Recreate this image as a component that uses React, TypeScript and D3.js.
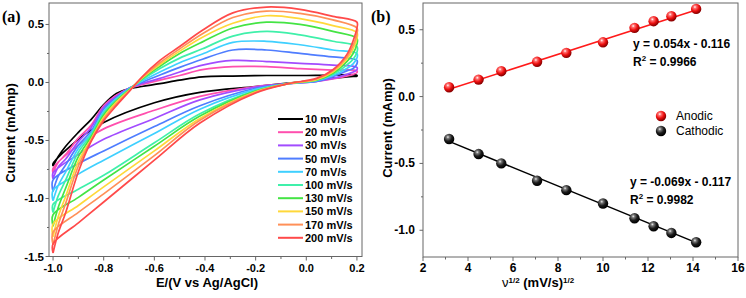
import * as d3 from 'd3';

// ---- panel (a): cyclic voltammograms ----
const scanRates = ['10 mV/s', '20 mV/s', '30 mV/s', '50 mV/s', '70 mV/s', '100 mV/s', '130 mV/s', '150 mV/s', '170 mV/s', '200 mV/s'];
const cvColors = ['#000000', '#ff4fae', '#a24cff', '#4f7dff', '#3fd0ff', '#3ff0aa', '#44e444', '#ffd83a', '#ff9058', '#ff4a4a'];

// potential grid (V vs Ag/AgCl) for the forward and reverse sweeps
const cvUpperE = [-1.0, -0.98, -0.95, -0.9, -0.85, -0.8, -0.75, -0.7, -0.65, -0.578, -0.5, -0.41, -0.29, -0.157, -0.025, 0.105, 0.2];
const cvLowerE = [0.2, 0.185, 0.16, 0.105, 0.04, -0.07, -0.2, -0.42, -0.6, -0.8, -0.9, -1.0];

// current (mAmp), one row per scan rate
const cvUpperI = [
  [-0.72, -0.64, -0.55, -0.43, -0.32, -0.19, -0.095, -0.055, -0.035, -0.01, 0.02, 0.048, 0.055, 0.06, 0.06, 0.064, 0.062],
  [-0.78, -0.69, -0.62, -0.48, -0.37, -0.2, -0.11, -0.05, -0.02, 0.02, 0.06, 0.11, 0.136, 0.136, 0.12, 0.107, 0.1],
  [-0.83, -0.73, -0.66, -0.51, -0.39, -0.215, -0.12, -0.05, -0.01, 0.035, 0.09, 0.15, 0.19, 0.18, 0.165, 0.15, 0.13],
  [-0.94, -0.81, -0.71, -0.54, -0.42, -0.23, -0.13, -0.05, 0.0, 0.064, 0.13, 0.2, 0.28, 0.28, 0.25, 0.22, 0.19],
  [-1.02, -0.89, -0.77, -0.57, -0.44, -0.25, -0.14, -0.055, 0.01, 0.09, 0.17, 0.245, 0.345, 0.355, 0.325, 0.28, 0.25],
  [-1.12, -0.98, -0.84, -0.6, -0.455, -0.265, -0.15, -0.06, 0.02, 0.12, 0.21, 0.29, 0.4, 0.44, 0.41, 0.355, 0.31],
  [-1.24, -1.08, -0.91, -0.64, -0.47, -0.28, -0.16, -0.065, 0.03, 0.14, 0.25, 0.35, 0.47, 0.52, 0.5, 0.44, 0.38],
  [-1.33, -1.16, -0.98, -0.68, -0.49, -0.3, -0.17, -0.07, 0.035, 0.155, 0.27, 0.39, 0.51, 0.575, 0.55, 0.49, 0.43],
  [-1.4, -1.23, -1.04, -0.72, -0.5, -0.315, -0.185, -0.075, 0.04, 0.17, 0.29, 0.42, 0.56, 0.615, 0.595, 0.54, 0.47],
  [-1.47, -1.3, -1.12, -0.77, -0.51, -0.33, -0.2, -0.08, 0.045, 0.19, 0.31, 0.45, 0.6, 0.65, 0.63, 0.57, 0.52],
];
const cvLowerI = [
  [0.055, 0.052, 0.047, 0.037, 0.02, -0.005, -0.035, -0.085, -0.175, -0.345, -0.49, -0.7],
  [0.085, 0.07, 0.055, 0.03, 0.01, -0.01, -0.035, -0.12, -0.24, -0.4, -0.54, -0.74],
  [0.11, 0.09, 0.07, 0.035, 0.01, -0.01, -0.04, -0.15, -0.31, -0.49, -0.62, -0.78],
  [0.16, 0.12, 0.1, 0.05, 0.01, -0.01, -0.05, -0.2, -0.38, -0.59, -0.7, -0.84],
  [0.21, 0.16, 0.12, 0.06, 0.015, -0.01, -0.06, -0.23, -0.44, -0.67, -0.79, -0.93],
  [0.26, 0.2, 0.15, 0.07, 0.02, -0.01, -0.07, -0.27, -0.52, -0.8, -0.92, -1.05],
  [0.33, 0.25, 0.18, 0.08, 0.02, -0.01, -0.075, -0.29, -0.55, -0.84, -0.99, -1.14],
  [0.38, 0.29, 0.2, 0.09, 0.025, -0.01, -0.08, -0.31, -0.59, -0.9, -1.06, -1.22],
  [0.42, 0.32, 0.22, 0.1, 0.03, -0.01, -0.085, -0.325, -0.63, -0.96, -1.12, -1.29],
  [0.47, 0.36, 0.24, 0.11, 0.035, -0.01, -0.09, -0.35, -0.67, -1.03, -1.21, -1.39],
];

const aXTicks = [-1.0, -0.8, -0.6, -0.4, -0.2, 0.0, 0.2];
const aXTickLabels = ['-1.0', '-0.8', '-0.6', '-0.4', '-0.2', '0.0', '0.2'];
const aYTicks = [-1.5, -1.0, -0.5, 0.0, 0.5];
const aYTickLabels = ['-1.5', '-1.0', '-0.5', '0.0', '0.5'];

// ---- panel (b): peak current vs square root of scan rate ----
const sqrtRate = [3.16, 4.47, 5.48, 7.07, 8.37, 10.0, 11.4, 12.25, 13.04, 14.14];
const anodicPeak = [0.07, 0.127, 0.19, 0.26, 0.327, 0.406, 0.514, 0.564, 0.601, 0.656];
const cathodicPeak = [-0.317, -0.43, -0.5, -0.63, -0.7, -0.8, -0.91, -0.97, -1.02, -1.09];
const fitSlope = [0.054, -0.069];
const fitIntercept = [-0.116, -0.117];
const fitEquation = ['y = 0.054x - 0.116', 'y = -0.069x - 0.117'];
const fitR2 = ['0.9966', '0.9982'];
const seriesNames = ['Anodic', 'Cathodic'];

const bXTicks = [2, 4, 6, 8, 10, 12, 14, 16];
const bYTicks = [-1.0, -0.5, 0.0, 0.5];
const bYTickLabels = ['-1.0', '-0.5', '0.0', '0.5'];

const FONT = 'Arial, "Liberation Sans", Helvetica, sans-serif';
const AXIS = '#666';

export default function App() {
  const xA = d3.scaleLinear().domain([-1.016, 0.22]).range([49, 362]);
  const yA = d3.scaleLinear().domain([-1.5, 0.685]).range([256.5, 3]);
  const xB = d3.scaleLinear().domain([2, 16]).range([423, 738]);
  const yB = d3.scaleLinear().domain([-1.2, 0.7]).range([257, 3]);

  const cvLine = d3
    .line<[number, number]>()
    .x(d => xA(d[0]))
    .y(d => yA(d[1]))
    .curve(d3.curveCatmullRom.alpha(0.5));

  const loops = scanRates.map((_, k) => {
    const pts: [number, number][] = [
      ...cvUpperE.map((e, i) => [e, cvUpperI[k][i]] as [number, number]),
      ...cvLowerE.map((e, i) => [e, cvLowerI[k][i]] as [number, number]),
    ];
    pts.push(pts[0]); // close the loop at the switching potential
    return cvLine(pts) || '';
  });

  const aXMinor = d3.range(-0.9, 0.2, 0.2);
  const aYMinor = d3.range(-1.25, 0.6, 0.5);
  const bXMinor = d3.range(3, 16, 2);
  const bYMinor = d3.range(-0.75, 0.6, 0.5);

  const xExt = d3.extent(sqrtRate) as [number, number];
  const peakSeries = [anodicPeak, cathodicPeak];
  const sphere = ['url(#ballRed)', 'url(#ballBlack)'];
  const fitColor = ['#ff1a1a', '#000000'];
  const eqX = [633, 630];
  const eqY = [47.5, 186];

  return (
    <div>
      <style>{'body{margin:0}'}</style>
      <svg width={746} height={298} style={{ display: 'block', background: '#fff' }} fontFamily={FONT}>
        <defs>
          <radialGradient id="ballRed" cx="38%" cy="32%" r="65%">
            <stop offset="0%" stopColor="#ffffff" />
            <stop offset="22%" stopColor="#ff7070" />
            <stop offset="60%" stopColor="#ee1010" />
            <stop offset="100%" stopColor="#8a0000" />
          </radialGradient>
          <radialGradient id="ballBlack" cx="38%" cy="32%" r="65%">
            <stop offset="0%" stopColor="#eeeeee" />
            <stop offset="22%" stopColor="#777777" />
            <stop offset="60%" stopColor="#1c1c1c" />
            <stop offset="100%" stopColor="#000000" />
          </radialGradient>
          <clipPath id="clipA">
            <rect x={49} y={3} width={313} height={253.5} />
          </clipPath>
        </defs>

        {/* ===== panel (a) ===== */}
        <g clipPath="url(#clipA)">
          {loops.map((d, k) => (
            <path key={k} d={d} fill="none" stroke={cvColors[k]} strokeWidth={1.7} strokeLinejoin="round" />
          ))}
        </g>
        <rect x={49} y={3} width={313} height={253.5} fill="none" stroke={AXIS} strokeWidth={1} />
        {aXTicks.map((t, i) => (
          <g key={'ax' + i}>
            <line x1={xA(t)} x2={xA(t)} y1={256.5} y2={260.5} stroke={AXIS} />
            <text x={xA(t)} y={271.5} textAnchor="middle" fontSize={11} fontWeight="bold">{aXTickLabels[i]}</text>
          </g>
        ))}
        {aXMinor.map((t, i) => (
          <line key={'axm' + i} x1={xA(t)} x2={xA(t)} y1={256.5} y2={259} stroke={AXIS} />
        ))}
        {aYTicks.map((t, i) => (
          <g key={'ay' + i}>
            <line x1={45.5} x2={49} y1={yA(t)} y2={yA(t)} stroke={AXIS} />
            <text x={44} y={yA(t) + 4} textAnchor="end" fontSize={11.5} fontWeight="bold">{aYTickLabels[i]}</text>
          </g>
        ))}
        {aYMinor.map((t, i) => (
          <line key={'aym' + i} x1={47} x2={49} y1={yA(t)} y2={yA(t)} stroke={AXIS} />
        ))}
        <text x={207} y={286.5} textAnchor="middle" fontSize={13} fontWeight="bold">E/(V vs Ag/AgCl)</text>
        <text transform="translate(14.5,133) rotate(-90)" textAnchor="middle" fontSize={13} fontWeight="bold">Current (mAmp)</text>
        <text x={2} y={22} fontSize={16} fontWeight="bold" fontFamily='"Liberation Serif", "DejaVu Serif", serif'>(a)</text>

        {scanRates.map((s, k) => (
          <g key={'lg' + k} transform={`translate(278,${119 + k * 13.2})`}>
            <line x1={0} x2={25} y1={0} y2={0} stroke={cvColors[k]} strokeWidth={2} />
            <text x={27} y={4} fontSize={11} fontWeight="bold">{s}</text>
          </g>
        ))}

        {/* ===== panel (b) ===== */}
        <rect x={423} y={3} width={315} height={254} fill="none" stroke={AXIS} strokeWidth={1} />
        {bXTicks.map((t, i) => (
          <g key={'bx' + i}>
            <line x1={xB(t)} x2={xB(t)} y1={257} y2={261} stroke={AXIS} />
            <text x={xB(t)} y={271.5} textAnchor="middle" fontSize={12} fontWeight="bold">{t}</text>
          </g>
        ))}
        {bXMinor.map((t, i) => (
          <line key={'bxm' + i} x1={xB(t)} x2={xB(t)} y1={257} y2={259.5} stroke={AXIS} />
        ))}
        {bYTicks.map((t, i) => (
          <g key={'by' + i}>
            <line x1={419.5} x2={423} y1={yB(t)} y2={yB(t)} stroke={AXIS} />
            <text x={415} y={yB(t) + 4} textAnchor="end" fontSize={12} fontWeight="bold">{bYTickLabels[i]}</text>
          </g>
        ))}
        {bYMinor.map((t, i) => (
          <line key={'bym' + i} x1={421} x2={423} y1={yB(t)} y2={yB(t)} stroke={AXIS} />
        ))}
        <text x={502} y={287} fontSize={13} fontWeight="bold" style={{ whiteSpace: 'pre' }}>
          <tspan fontWeight="normal">ν</tspan>
          <tspan fontSize={8} dy={-4.5}>1/2</tspan>
          <tspan dy={4.5}> (mV/s)</tspan>
          <tspan fontSize={8} dy={-4.5}>1/2</tspan>
        </text>
        <text transform="translate(391.5,128) rotate(-90)" textAnchor="middle" fontSize={13} fontWeight="bold">Current (mAmp)</text>
        <text x={371} y={22} fontSize={16} fontWeight="bold" fontFamily='"Liberation Serif", "DejaVu Serif", serif'>(b)</text>

        {peakSeries.map((vals, s) => (
          <g key={'ser' + s}>
            <line
              x1={xB(xExt[0])}
              y1={yB(fitSlope[s] * xExt[0] + fitIntercept[s])}
              x2={xB(xExt[1])}
              y2={yB(fitSlope[s] * xExt[1] + fitIntercept[s])}
              stroke={fitColor[s]}
              strokeWidth={1.5}
            />
            {vals.map((v, i) => (
              <circle key={i} cx={xB(sqrtRate[i])} cy={yB(v)} r={5.2} fill={sphere[s]} />
            ))}
            <text x={eqX[s]} y={eqY[s]} fontSize={12} fontWeight="bold">{fitEquation[s]}</text>
            <text x={eqX[s]} y={eqY[s] + 18} fontSize={12} fontWeight="bold">
              R<tspan fontSize={8} dy={-5}>2</tspan>
              <tspan dy={5}> = {fitR2[s]}</tspan>
            </text>
            <circle cx={661} cy={116 + s * 15} r={5.2} fill={sphere[s]} />
            <text x={676} y={120 + s * 15} fontSize={12}>{seriesNames[s]}</text>
          </g>
        ))}
      </svg>
    </div>
  );
}
